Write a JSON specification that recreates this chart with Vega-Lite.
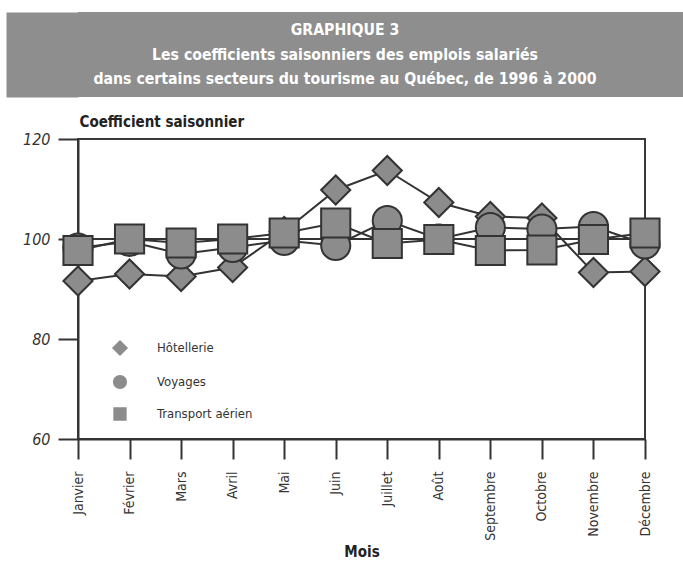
{
  "$schema": "https://vega.github.io/schema/vega-lite/v6.json",
  "padding": {"left": 5, "top": 12, "right": 0, "bottom": 0},
  "background": "white",
  "spacing": 16,
  "config": {
    "font": "DejaVu Sans Condensed",
    "view": {"stroke": null},
    "axisX": {
      "tickSize": 20, "tickWidth": 2, "tickColor": "#333", "domainColor": "#333", "domainWidth": 2,
      "labelFont": "DejaVu Sans Condensed", "labelFontSize": 14, "labelColor": "#333", "labelPadding": 12,
      "labelAngle": -90, "grid": false,
      "titleFont": "DejaVu Sans Condensed", "titleFontSize": 15, "titleFontWeight": "bold", "titleColor": "#222", "titlePadding": 4
    },
    "axisY": {
      "tickSize": 20, "tickWidth": 2, "tickColor": "#333", "domainColor": "#333", "domainWidth": 2,
      "labelFont": "DejaVu Sans Condensed", "labelFontStyle": "italic", "labelFontSize": 16, "labelColor": "#333", "labelPadding": 8,
      "grid": false,
      "titleFont": "DejaVu Sans Condensed", "titleFontSize": 15, "titleFontWeight": "bold", "titleColor": "#222",
      "titleAngle": 0, "titleX": 1, "titleY": -13, "titleAlign": "left", "titleBaseline": "alphabetic"
    }
  },
  "vconcat": [
    {
      "width": 606,
      "height": 85,
      "view": {"fill": "#8e8e8e", "stroke": null},
      "data": {"values": [
        {"ligne": 1, "texte": "GRAPHIQUE 3"},
        {"ligne": 2, "texte": "Les coefficients saisonniers des emplois salariés"},
        {"ligne": 3, "texte": "dans certains secteurs du tourisme au Québec, de 1996 à 2000"}
      ]},
      "mark": {"type": "text", "color": "white", "fontWeight": "bold", "fontSize": 15.7, "font": "DejaVu Sans Condensed", "baseline": "middle", "dx": -36},
      "encoding": {
        "y": {"field": "ligne", "type": "ordinal", "scale": {"type": "point", "padding": 0.72},
              "axis": {"domain": true, "domainColor": "#8e8e8e", "domainWidth": 72, "offset": 36,
                       "ticks": false, "labels": false, "title": null, "minExtent": 0}},
        "text": {"field": "texte"}
      }
    },
    {
      "width": 567,
      "height": 300,
      "view": {"stroke": "#3a3a3a", "strokeWidth": 2},
      "data": {"values": [
        {"serie": "Hôtellerie", "mois": "Janvier", "valeur": 91.6},
        {"serie": "Hôtellerie", "mois": "Février", "valeur": 93},
        {"serie": "Hôtellerie", "mois": "Mars", "valeur": 92.5},
        {"serie": "Hôtellerie", "mois": "Avril", "valeur": 94.3},
        {"serie": "Hôtellerie", "mois": "Mai", "valeur": 101.5},
        {"serie": "Hôtellerie", "mois": "Juin", "valeur": 109.8},
        {"serie": "Hôtellerie", "mois": "Juillet", "valeur": 113.7},
        {"serie": "Hôtellerie", "mois": "Août", "valeur": 107.3},
        {"serie": "Hôtellerie", "mois": "Septembre", "valeur": 104.5},
        {"serie": "Hôtellerie", "mois": "Octobre", "valeur": 104.2},
        {"serie": "Hôtellerie", "mois": "Novembre", "valeur": 93.3},
        {"serie": "Hôtellerie", "mois": "Décembre", "valeur": 93.5},
        {"serie": "Voyages", "mois": "Janvier", "valeur": 98.2},
        {"serie": "Voyages", "mois": "Février", "valeur": 99.5},
        {"serie": "Voyages", "mois": "Mars", "valeur": 97},
        {"serie": "Voyages", "mois": "Avril", "valeur": 98.3},
        {"serie": "Voyages", "mois": "Mai", "valeur": 99.7},
        {"serie": "Voyages", "mois": "Juin", "valeur": 98.7},
        {"serie": "Voyages", "mois": "Juillet", "valeur": 103.7},
        {"serie": "Voyages", "mois": "Août", "valeur": 100},
        {"serie": "Voyages", "mois": "Septembre", "valeur": 102.3},
        {"serie": "Voyages", "mois": "Octobre", "valeur": 102},
        {"serie": "Voyages", "mois": "Novembre", "valeur": 102.5},
        {"serie": "Voyages", "mois": "Décembre", "valeur": 99},
        {"serie": "Transport aérien", "mois": "Janvier", "valeur": 97.7},
        {"serie": "Transport aérien", "mois": "Février", "valeur": 100},
        {"serie": "Transport aérien", "mois": "Mars", "valeur": 99.2},
        {"serie": "Transport aérien", "mois": "Avril", "valeur": 100},
        {"serie": "Transport aérien", "mois": "Mai", "valeur": 101.2},
        {"serie": "Transport aérien", "mois": "Juin", "valeur": 103.2},
        {"serie": "Transport aérien", "mois": "Juillet", "valeur": 99.1},
        {"serie": "Transport aérien", "mois": "Août", "valeur": 99.9},
        {"serie": "Transport aérien", "mois": "Septembre", "valeur": 97.7},
        {"serie": "Transport aérien", "mois": "Octobre", "valeur": 97.8},
        {"serie": "Transport aérien", "mois": "Novembre", "valeur": 99.9},
        {"serie": "Transport aérien", "mois": "Décembre", "valeur": 101.2}
      ]},
      "layer": [
        {
          "data": {"values": [{}]},
          "mark": {"type": "rule", "color": "#333", "strokeWidth": 2},
          "encoding": {"y": {"datum": 100, "type": "quantitative"}}
        },
        {
          "mark": {"type": "line", "color": "#333", "strokeWidth": 2},
          "encoding": {
            "x": {"field": "mois", "type": "ordinal", "title": "Mois",
                  "sort": ["Janvier","Février","Mars","Avril","Mai","Juin","Juillet","Août","Septembre","Octobre","Novembre","Décembre"],
                  "scale": {"type": "point", "padding": 0}},
            "y": {"field": "valeur", "type": "quantitative", "title": "Coefficient saisonnier",
                  "scale": {"domain": [60, 120], "nice": false, "zero": false},
                  "axis": {"values": [60, 80, 100, 120], "minExtent": 72}},
            "detail": {"field": "serie"}
          }
        },
        {
          "mark": {"type": "point", "filled": true, "size": 10, "opacity": 1},
          "encoding": {
            "x": {"field": "mois", "type": "ordinal",
                  "sort": ["Janvier","Février","Mars","Avril","Mai","Juin","Juillet","Août","Septembre","Octobre","Novembre","Décembre"]},
            "y": {"field": "valeur", "type": "quantitative"},
            "fill": {"value": "#8c8c8c"},
            "stroke": {"value": "#333"},
            "strokeWidth": {"value": 2},
            "shape": {"field": "serie", "type": "nominal",
                      "scale": {"domain": ["Hôtellerie", "Voyages", "Transport aérien"],
                                "range": [
                                  "M-4.6,0L-1.15,0M1.15,0L4.6,0M0,-1.15L1.15,0L0,1.15L-1.15,0Z",
                                  "M-4.6,0L-1,0M1,0L4.6,0M-1,0A1,1,0,1,0,1,0A1,1,0,1,0,-1,0Z",
                                  "M-4.6,0L-0.95,0M0.95,0L4.6,0M-0.95,-0.95L0.95,-0.95L0.95,0.95L-0.95,0.95Z"
                                ]},
                      "legend": {"title": null, "orient": "none", "legendX": 34, "legendY": 201,
                                 "symbolSize": 196, "symbolFillColor": "#8c8c8c", "symbolStrokeColor": "#333",
                                 "symbolStrokeWidth": 2, "symbolOpacity": 1,
                                 "labelFont": "DejaVu Sans Condensed", "labelFontSize": 13, "labelColor": "#333",
                                 "labelOffset": 29, "rowPadding": 10, "padding": 0}}
          }
        },
        {
          "mark": {"type": "point", "filled": true, "fill": "#8c8c8c", "stroke": "#333", "strokeWidth": 2, "size": 850, "opacity": 1},
          "encoding": {
            "x": {"field": "mois", "type": "ordinal",
                  "sort": ["Janvier","Février","Mars","Avril","Mai","Juin","Juillet","Août","Septembre","Octobre","Novembre","Décembre"]},
            "y": {"field": "valeur", "type": "quantitative"},
            "shape": {"field": "serie", "type": "nominal",
                      "scale": {"domain": ["Hôtellerie", "Voyages", "Transport aérien"], "range": ["diamond", "circle", "square"]},
                      "legend": null}
          }
        }
      ],
      "resolve": {"scale": {"shape": "independent"}}
    }
  ]
}
